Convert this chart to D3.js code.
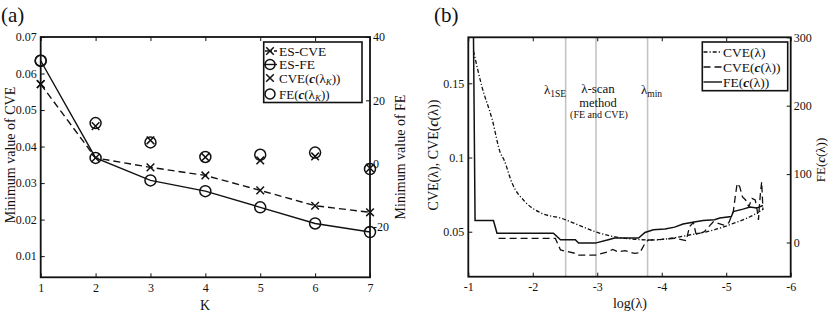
<!DOCTYPE html>
<html>
<head>
<meta charset="utf-8">
<script src="https://cdn.jsdelivr.net/npm/d3@7"></script>
<style>
  body { margin: 0; background: #fff; }
  svg { display: block; }
  text { fill: #111; }
  .tick line { stroke: #111; stroke-width: 1; }
  .domain { display: none; }
</style>
</head>
<body>
<svg id="chart" width="830" height="315" font-family="Liberation Serif"></svg>
<script>
// ---- panel (a) data ----
const kValues = [1, 2, 3, 4, 5, 6, 7];
const esCve = [0.0571, 0.0369, 0.0343, 0.0321, 0.0280, 0.0238, 0.0220];
const esFe = [32.5, 1.8, -5.3, -8.7, -13.8, -18.9, -21.6];
const cveAtLambdaK = [0.0571, 0.0456, 0.0417, 0.0371, 0.0362, 0.0373, 0.0341];
const feAtLambdaK = [32.5, 12.8, 6.7, 2.1, 2.8, 3.5, -1.7];
const cveTicksA = [0.01, 0.02, 0.03, 0.04, 0.05, 0.06, 0.07];
const feTicksA = [-20, 0, 20, 40];

// ---- panel (b) data ----
const lamCve = [-1.08, -1.21, -1.37, -1.50, -1.55, -1.68, -1.88, -2.14, -2.45, -2.71,
  -3.02, -3.27, -3.58, -3.84, -4.15, -4.43, -4.80, -5.11, -5.37, -5.57];
const cveLambda = [0.1718, 0.148, 0.1257, 0.1028, 0.0988, 0.0826, 0.0702, 0.0624, 0.059, 0.0545,
  0.0493, 0.0466, 0.0449, 0.0444, 0.0456, 0.0478, 0.0511, 0.0556, 0.0601, 0.0650];

const lamFe = [-1.08, -1.105, -1.39, -1.445, -2.32, -2.43, -2.66, -2.71, -2.97, -3.17,
  -3.27, -3.64, -3.74, -3.87, -4.05, -4.20, -4.33, -4.46, -4.64, -4.82,
  -4.90, -5.08, -5.11, -5.26, -5.37, -5.47, -5.57];
const feC = [305, 32.2, 32.2, 13.7, 13.7, 3.9, 3.9, -0.9, -0.9, 3.9,
  6.4, 6.4, 14.6, 18.6, 19.6, 22.5, 26.9, 29.2, 32.2, 33.2,
  35.7, 38.0, 45.3, 48.8, 51.8, 50.3, 54.1];

const lamCveC = [-1.47, -2.35, -2.43, -2.66, -2.71, -2.97, -3.17, -3.24, -3.32, -3.43,
  -3.58, -3.66, -3.74, -3.79, -4.00, -4.20, -4.38, -4.43, -4.49, -4.53,
  -4.56, -4.60, -4.66, -4.80, -4.96, -5.04, -5.11, -5.14, -5.17, -5.21,
  -5.25, -5.30, -5.35, -5.40, -5.45, -5.48, -5.50, -5.51, -5.53, -5.55, -5.57];
const cveC = [0.0455, 0.0455, 0.0377, 0.0354, 0.0343, 0.0343, 0.0365, 0.0381, 0.0365, 0.0372,
  0.0354, 0.0358, 0.0422, 0.0444, 0.0449, 0.0456, 0.0440, 0.0534, 0.0562, 0.0489,
  0.0478, 0.0490, 0.0500, 0.0567, 0.0545, 0.0560, 0.0635, 0.0736, 0.0826, 0.0803,
  0.0736, 0.0714, 0.0669, 0.0725, 0.0714, 0.0646, 0.0579, 0.0646, 0.0758, 0.0836, 0.0646];

const lambdaMarks = [-2.51, -2.98, -3.78];
const lamTicks = [-1, -2, -3, -4, -5, -6];
const cveTicksB = [0.05, 0.1, 0.15];
const feTicksB = [0, 100, 200, 300];

const serif = "'Liberation Serif', 'Times New Roman', 'DejaVu Serif', serif";
const svg = d3.select("#chart");

// frame + axes helper
function drawAxes(g, x, yL, yR, opt) {
  const [x0, x1] = x.range();
  const [yb, yt] = yL.range();
  g.append("g")
    .attr("transform", `translate(0,${yb})`)
    .call(d3.axisBottom(x).tickValues(opt.xTicks).tickSize(-4).tickSizeOuter(0)
      .tickPadding(6).tickFormat(opt.xFormat))
    .selectAll("text").style("font-size", "12px");
  g.append("g")
    .attr("transform", `translate(0,${yt})`)
    .call(d3.axisTop(x).tickValues(opt.xTicks).tickSize(-4).tickSizeOuter(0).tickFormat(""));
  g.append("g")
    .attr("transform", `translate(${x0},0)`)
    .call(d3.axisLeft(yL).tickValues(opt.yLTicks).tickSize(-4).tickSizeOuter(0)
      .tickPadding(4).tickFormat(opt.yLFormat))
    .selectAll("text").style("font-size", "12px");
  g.append("g")
    .attr("transform", `translate(${x1},0)`)
    .call(d3.axisRight(yR).tickValues(opt.yRTicks).tickSize(-4).tickSizeOuter(0)
      .tickPadding(3).tickFormat((d) => String(d)))
    .selectAll("text").style("font-size", "12px");
  g.append("rect")
    .attr("x", x0).attr("y", yt)
    .attr("width", x1 - x0).attr("height", yb - yt)
    .attr("fill", "none").attr("stroke", "#111").attr("stroke-width", 1.8);
}

function rotLabel(g, x, y, size) {
  return g.append("text")
    .attr("transform", `translate(${x},${y}) rotate(-90)`)
    .attr("text-anchor", "middle")
    .attr("dy", "0.35em")
    .style("font-size", size + "px");
}

// bold italic c of c(λ)
function addC(t) {
  t.append("tspan").attr("font-weight", "bold").attr("font-style", "italic").text("c");
}

const crossPath = "M-3.8,-3.8L3.8,3.8M-3.8,3.8L3.8,-3.8";

// ================= panel (a) =================
const ax = d3.scaleLinear().domain([1, 7]).range([40.7, 370]);
const ayL = d3.scaleLinear().domain([0.0042, 0.07]).range([277.3, 37]);
const ayR = d3.scaleLinear().domain([-35.9, 40]).range([277.3, 37]);

const ga = svg.append("g");

const lineCve = d3.line().x((d, i) => ax(kValues[i])).y((d) => ayL(d));
const lineFe = d3.line().x((d, i) => ax(kValues[i])).y((d) => ayR(d));

ga.append("path").attr("d", lineCve(esCve))
  .attr("fill", "none").attr("stroke", "#111").attr("stroke-width", 1.4)
  .attr("stroke-dasharray", "7,4");
ga.append("path").attr("d", lineFe(esFe))
  .attr("fill", "none").attr("stroke", "#111").attr("stroke-width", 1.4);

ga.selectAll(".esCveMk").data(esCve).join("path")
  .attr("class", "esCveMk")
  .attr("transform", (d, i) => `translate(${ax(kValues[i])},${ayL(d)})`)
  .attr("d", crossPath).attr("stroke", "#111").attr("stroke-width", 1.5);
ga.selectAll(".cveKMk").data(cveAtLambdaK).join("path")
  .attr("class", "cveKMk")
  .attr("transform", (d, i) => `translate(${ax(kValues[i])},${ayL(d)})`)
  .attr("d", crossPath).attr("stroke", "#111").attr("stroke-width", 1.5);
ga.selectAll(".esFeMk").data(esFe).join("circle")
  .attr("class", "esFeMk")
  .attr("cx", (d, i) => ax(kValues[i])).attr("cy", (d) => ayR(d)).attr("r", 5.5)
  .attr("fill", "none").attr("stroke", "#111").attr("stroke-width", 1.5);
ga.selectAll(".feKMk").data(feAtLambdaK).join("circle")
  .attr("class", "feKMk")
  .attr("cx", (d, i) => ax(kValues[i])).attr("cy", (d) => ayR(d)).attr("r", 5.5)
  .attr("fill", "none").attr("stroke", "#111").attr("stroke-width", 1.5);

drawAxes(ga, ax, ayL, ayR, {
  xTicks: kValues, xFormat: d3.format("d"),
  yLTicks: cveTicksA, yLFormat: d3.format(".2f"),
  yRTicks: feTicksA,
});

ga.append("text").attr("x", 205).attr("y", 310).attr("text-anchor", "middle")
  .style("font-size", "14px").text("K");
rotLabel(ga, 10, 155, 14).text("Minimum value of CVE");
rotLabel(ga, 400, 157, 14).text("Minimum value of FE");
ga.append("text").attr("x", 1).attr("y", 22).style("font-size", "21px").text("(a)");

// legend (a)
const la = ga.append("g");
la.append("rect").attr("x", 263.7).attr("y", 42).attr("width", 98.3).attr("height", 60.5)
  .attr("fill", "#fff").attr("stroke", "#111").attr("stroke-width", 1.6);
const legAy = [51, 64.5, 78, 94];
la.append("line").attr("x1", 265).attr("x2", 277).attr("y1", legAy[0]).attr("y2", legAy[0])
  .attr("stroke", "#111").attr("stroke-width", 1.4).attr("stroke-dasharray", "7,2");
la.append("path").attr("transform", `translate(270,${legAy[0]})`).attr("d", crossPath)
  .attr("stroke", "#111").attr("stroke-width", 1.5);
la.append("line").attr("x1", 264).attr("x2", 277).attr("y1", legAy[1]).attr("y2", legAy[1])
  .attr("stroke", "#111").attr("stroke-width", 1.4);
la.append("circle").attr("cx", 270).attr("cy", legAy[1]).attr("r", 5)
  .attr("fill", "none").attr("stroke", "#111").attr("stroke-width", 1.5);
la.append("path").attr("transform", `translate(270,${legAy[2]})`).attr("d", crossPath)
  .attr("stroke", "#111").attr("stroke-width", 1.5);
la.append("circle").attr("cx", 270).attr("cy", legAy[3]).attr("r", 5)
  .attr("fill", "none").attr("stroke", "#111").attr("stroke-width", 1.5);

function legText(g, x, y, size) {
  return g.append("text").attr("x", x).attr("y", y).attr("dy", "0.35em").style("font-size", size + "px");
}
legText(la, 279, legAy[0], 13.5).text("ES-CVE");
legText(la, 279, legAy[1], 13.5).text("ES-FE");
function lambdaK(t, head) {
  t.append("tspan").text(head + "(");
  addC(t);
  t.append("tspan").text("(λ");
  t.append("tspan").attr("dy", 2).style("font-size", "9px").attr("font-style", "italic").text("K");
  t.append("tspan").attr("dy", -2).text("))");
}
lambdaK(legText(la, 279, legAy[2], 13), "CVE");
lambdaK(legText(la, 279, legAy[3], 13), "FE");

// ================= panel (b) =================
const bx = d3.scaleLinear().domain([-1, -6]).range([468.3, 790.7]);
const byL = d3.scaleLinear().domain([0.0197, 0.181]).range([276.7, 37.3]);
const byR = d3.scaleLinear().domain([-50, 300]).range([276.7, 37.3]);

const gb = svg.append("g");
svg.append("clipPath").attr("id", "clipB").append("rect")
  .attr("x", 468.3).attr("y", 37.3).attr("width", 790.7 - 468.3).attr("height", 276.7 - 37.3);

const plotB = gb.append("g").attr("clip-path", "url(#clipB)");

plotB.selectAll(".mark").data(lambdaMarks).join("line")
  .attr("class", "mark")
  .attr("x1", (d) => bx(d)).attr("x2", (d) => bx(d))
  .attr("y1", 37.3).attr("y2", 276.7)
  .attr("stroke", "#c4c4c4").attr("stroke-width", 1.6);

const lineBL = (xs) => d3.line().x((d, i) => bx(xs[i])).y((d) => byL(d));
plotB.append("path")
  .attr("d", lineBL(lamCve).curve(d3.curveMonotoneX)(cveLambda))
  .attr("fill", "none").attr("stroke", "#111").attr("stroke-width", 1.3)
  .attr("stroke-dasharray", "4,2,1.2,2");
plotB.append("path")
  .attr("d", lineBL(lamCveC)(cveC))
  .attr("fill", "none").attr("stroke", "#111").attr("stroke-width", 1.3)
  .attr("stroke-dasharray", "7,4");
plotB.append("path")
  .attr("d", d3.line().x((d, i) => bx(lamFe[i])).y((d) => byR(d))(feC))
  .attr("fill", "none").attr("stroke", "#111").attr("stroke-width", 1.5);

drawAxes(gb, bx, byL, byR, {
  xTicks: lamTicks, xFormat: (d) => String(d),
  yLTicks: cveTicksB, yLFormat: (d) => String(d),
  yRTicks: feTicksB,
});

gb.append("text").attr("x", 630).attr("y", 308).attr("text-anchor", "middle")
  .style("font-size", "14px").text("log(λ)");
const lb = rotLabel(gb, 433, 155, 14);
lb.append("tspan").text("CVE(λ), CVE(");
addC(lb);
lb.append("tspan").text("(λ))");
const rb = rotLabel(gb, 820, 160, 13);
rb.append("tspan").text("FE(");
addC(rb);
rb.append("tspan").text("(λ))");
gb.append("text").attr("x", 434).attr("y", 22).style("font-size", "21px").text("(b)");

// annotations
const a1 = gb.append("text").attr("x", 544).attr("y", 94).style("font-size", "13px");
a1.append("tspan").text("λ");
a1.append("tspan").attr("dy", 3).style("font-size", "9.5px").text("1SE");
gb.append("text").attr("x", 598).attr("y", 93).attr("text-anchor", "middle")
  .style("font-size", "13px").text("λ-scan");
gb.append("text").attr("x", 598).attr("y", 106.5).attr("text-anchor", "middle")
  .style("font-size", "12.5px").text("method");
gb.append("text").attr("x", 599).attr("y", 117.5).attr("text-anchor", "middle")
  .style("font-size", "10px").text("(FE and CVE)");
const a3 = gb.append("text").attr("x", 641).attr("y", 94).style("font-size", "13px");
a3.append("tspan").text("λ");
a3.append("tspan").attr("dy", 3).style("font-size", "9.5px").text("min");

// legend (b)
const lgb = gb.append("g");
lgb.append("rect").attr("x", 702.3).attr("y", 42).attr("width", 85.4).attr("height", 48.7)
  .attr("fill", "#fff").attr("stroke", "#111").attr("stroke-width", 1.6);
const legBy = [52, 67, 82];
const legBDash = ["4,2,1.2,2", "7,4", null];
legBy.forEach((y, i) => {
  const l = lgb.append("line").attr("x1", 703.5).attr("x2", 722).attr("y1", y).attr("y2", y)
    .attr("stroke", "#111").attr("stroke-width", 1.4);
  if (legBDash[i]) l.attr("stroke-dasharray", legBDash[i]);
});
legText(lgb, 723, legBy[0], 13.5).text("CVE(λ)");
const lt2 = legText(lgb, 723, legBy[1], 13.5);
lt2.append("tspan").text("CVE(");
addC(lt2);
lt2.append("tspan").text("(λ))");
const lt3 = legText(lgb, 723, legBy[2], 13.5);
lt3.append("tspan").text("FE(");
addC(lt3);
lt3.append("tspan").text("(λ))");

// one serif face for every text, including the axis labels d3 creates
svg.selectAll("text").style("font-family", serif);
</script>
</body>
</html>
